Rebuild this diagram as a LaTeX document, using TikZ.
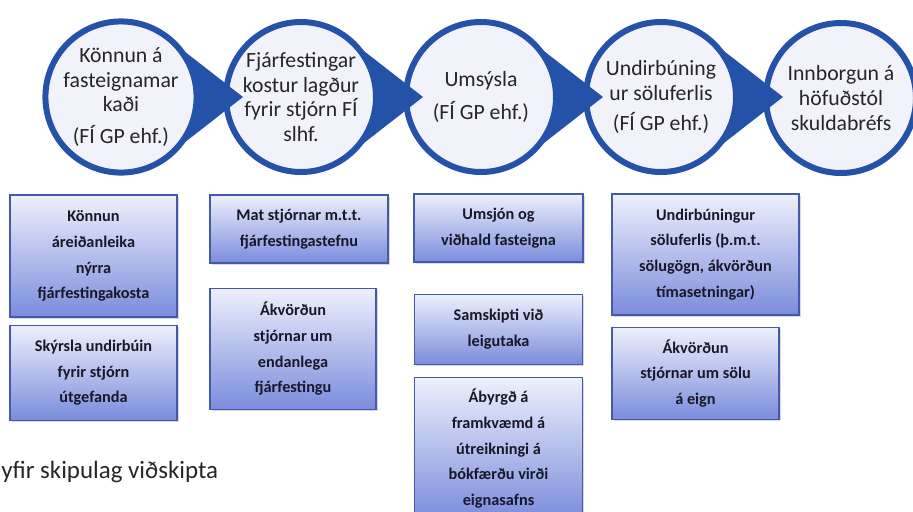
\documentclass[tikz,border=0pt]{standalone}
\usepackage{fontspec}
\setmainfont{Carlito}
\usepackage{tikz}
\usetikzlibrary{positioning, calc, shadows}

\definecolor{ringblue}{RGB}{36,82,168}
\definecolor{stagefill}{RGB}{242,243,250}
\definecolor{tasktop}{RGB}{238,240,252}
\definecolor{taskbottom}{RGB}{122,140,220}
\definecolor{taskline}{RGB}{68,88,172}
\definecolor{tasktext}{RGB}{24,24,40}

\begin{document}
\begin{tikzpicture}[
  x=0.75pt, y=-0.75pt,
  stage/.style={circle, draw=ringblue, line width=4.5pt, fill=stagefill, minimum size=112.5pt, inner sep=0pt, align=center, text=black!85, font=\fontsize{16.3}{18.5}\selectfont},
  task/.style={rectangle, draw=taskline, line width=1pt, top color=tasktop, bottom color=taskbottom, inner sep=0pt, align=center, text=tasktext, font=\bfseries\fontsize{12.2}{19.3}\selectfont, drop shadow={shadow xshift=1.2pt, shadow yshift=-1.5pt, opacity=0.3}},
  head/.style={fill=ringblue}
]
  \useasboundingbox (0,0) rectangle (913,511);
  \clip (0,0) rectangle (913,511);
  % Stages
  \node[stage] (konnun) at (121,97) {Könnun á\\fasteignamar\\kaði\\[5pt](FÍ GP ehf.)};
  \node[stage] (fjarfest) at (301,97) {Fjárfestingar\\kostur lagður\\fyrir stjórn FÍ\\slhf.};
  \node[stage] (umsysla) at (481,97) {Umsýsla\\[6pt](FÍ GP ehf.)};
  \node[stage] (undirb) at (661,97) {Undirbúning\\ur söluferlis\\[4pt](FÍ GP ehf.)};
  \node[stage] (innborg) at (841,98) {Innborgun á\\höfuðstól\\skuldabréfs};
  % Heads
  \coordinate[right=91.5pt of konnun.center] (tip1);
  \coordinate[right=91.5pt of fjarfest.center] (tip2);
  \coordinate[right=91.5pt of umsysla.center] (tip3);
  \coordinate[right=91.5pt of undirb.center] (tip4);
  \fill[head] ($(konnun)+(50:56.25pt)$) -- (tip1) -- ($(konnun)+(-50:56.25pt)$) arc[start angle=-50, end angle=50, radius=56.25pt] -- cycle;
  \fill[head] ($(fjarfest)+(50:56.25pt)$) -- (tip2) -- ($(fjarfest)+(-50:56.25pt)$) arc[start angle=-50, end angle=50, radius=56.25pt] -- cycle;
  \fill[head] ($(umsysla)+(50:56.25pt)$) -- (tip3) -- ($(umsysla)+(-50:56.25pt)$) arc[start angle=-50, end angle=50, radius=56.25pt] -- cycle;
  \fill[head] ($(undirb)+(50:56.25pt)$) -- (tip4) -- ($(undirb)+(-50:56.25pt)$) arc[start angle=-50, end angle=50, radius=56.25pt] -- cycle;
  % Tasks
  \node[task, minimum width=125.25pt, minimum height=91.5pt] (k1) at (93.5,256) {Könnun\\áreiðanleika\\nýrra\\fjárfestingakosta};
  \node[task, minimum width=125.25pt, minimum height=71.25pt, below=5.25pt of k1] (k2) {Skýrsla undirbúin\\fyrir stjórn\\útgefanda};
  \node[task, minimum width=133.5pt, minimum height=51pt] (f1) at (299,229) {Mat stjórnar m.t.t.\\fjárfestingastefnu};
  \node[task, minimum width=124.5pt, minimum height=90.75pt, below=18pt of f1.south west, anchor=north west] (f2) {Ákvörðun\\stjórnar um\\endanlega\\fjárfestingu};
  \node[task, minimum width=126.75pt, minimum height=51pt] (u1) at (498.5,228) {Umsjón og\\viðhald fasteigna};
  \node[task, minimum width=126pt, minimum height=52.5pt, below=23.25pt of u1] (u2) {Samskipti við\\leigutaka};
  \node[task, minimum width=126pt, minimum height=106.5pt, below=9pt of u2] (u3) {Ábyrgð á\\framkvæmd á\\útreikningi á\\bókfærðu virði\\eignasafns};
  \node[task, minimum width=140.25pt, minimum height=90.75pt] (s1) at (705.5,254.5) {Undirbúningur\\söluferlis (þ.m.t.\\sölugögn, ákvörðun\\tímasetningar)};
  \node[task, minimum width=125.25pt, minimum height=69pt, below=8.25pt of s1.south west, anchor=north west] (s2) {Ákvörðun\\stjórnar um sölu\\á eign};
  % Caption
  \node[anchor=west, inner sep=0pt, text=black!85, font=\fontsize{18.7}{22}\selectfont] (caption) at (1,472) {yfir skipulag viðskipta};
\end{tikzpicture}
\end{document}
